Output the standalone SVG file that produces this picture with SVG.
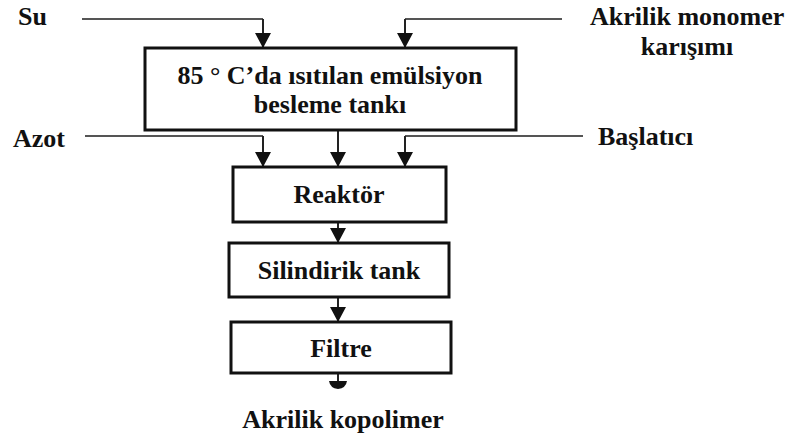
<svg xmlns="http://www.w3.org/2000/svg" width="793" height="438" viewBox="0 0 793 438">
  <style>
    .box { fill: #ffffff; stroke: #111111; stroke-width: 3; }
    .lbl { font-family: "Liberation Serif", "Times New Roman", serif; font-weight: bold; font-size: 26px; fill: #111111; }
    .mid { text-anchor: middle; }
    .conn { fill: none; stroke: #222222; stroke-width: 2; }
    .feed { fill: none; stroke: #555555; stroke-width: 2; }
  </style>
  <defs>
    <marker id="arrow" viewBox="0 0 15 16" refX="15" refY="8" markerWidth="15" markerHeight="16" markerUnits="userSpaceOnUse" orient="auto">
      <path d="M0,0 L15,8 L0,16 Z" fill="#111111"/>
    </marker>
  </defs>
  <rect width="793" height="438" fill="#ffffff"/>

  <g id="connectors">
    <path class="feed" d="M82,19 H263" />
    <path class="conn" d="M263,19 V48" marker-end="url(#arrow)"/>
    <path class="feed" d="M562,19 H405" />
    <path class="conn" d="M405,19 V48" marker-end="url(#arrow)"/>
    <path class="conn" d="M338,131 V167" marker-end="url(#arrow)"/>
    <path class="feed" d="M85,136 H263" />
    <path class="conn" d="M263,136 V167" marker-end="url(#arrow)"/>
    <path class="feed" d="M583,136 H405" />
    <path class="conn" d="M405,136 V167" marker-end="url(#arrow)"/>
    <path class="conn" d="M338,222 V243" marker-end="url(#arrow)"/>
    <path class="conn" d="M338,297 V322" marker-end="url(#arrow)"/>
    <path class="conn" d="M338,373 V382"/>
    <path d="M329,381 L347,381 Q346,388 338,389 Q330,388 329,381 Z" fill="#111111"/>
  </g>

  <g id="input-su">
    <text class="lbl" x="18" y="25">Su</text>
  </g>
  <g id="input-akrilik-monomer">
    <text class="lbl" x="590" y="25">Akrilik monomer</text>
    <text class="lbl mid" x="687" y="55">karışımı</text>
  </g>
  <g id="input-azot">
    <text class="lbl" x="13" y="147">Azot</text>
  </g>
  <g id="input-baslatici">
    <text class="lbl" x="598" y="145">Başlatıcı</text>
  </g>

  <g id="node-besleme-tanki">
    <rect class="box" x="145" y="48" width="371" height="82"/>
    <text class="lbl mid" x="330" y="84">85 ° C’da ısıtılan emülsiyon</text>
    <text class="lbl mid" x="330" y="113">besleme tankı</text>
  </g>
  <g id="node-reaktor">
    <rect class="box" x="233" y="167" width="213" height="55"/>
    <text class="lbl mid" x="339" y="203">Reaktör</text>
  </g>
  <g id="node-silindirik-tank">
    <rect class="box" x="229" y="243" width="220" height="54"/>
    <text class="lbl mid" x="339" y="279">Silindirik tank</text>
  </g>
  <g id="node-filtre">
    <rect class="box" x="231" y="322" width="220" height="51"/>
    <text class="lbl mid" x="341" y="357">Filtre</text>
  </g>
  <g id="output-akrilik-kopolimer">
    <text class="lbl mid" x="343" y="428">Akrilik kopolimer</text>
  </g>
</svg>
